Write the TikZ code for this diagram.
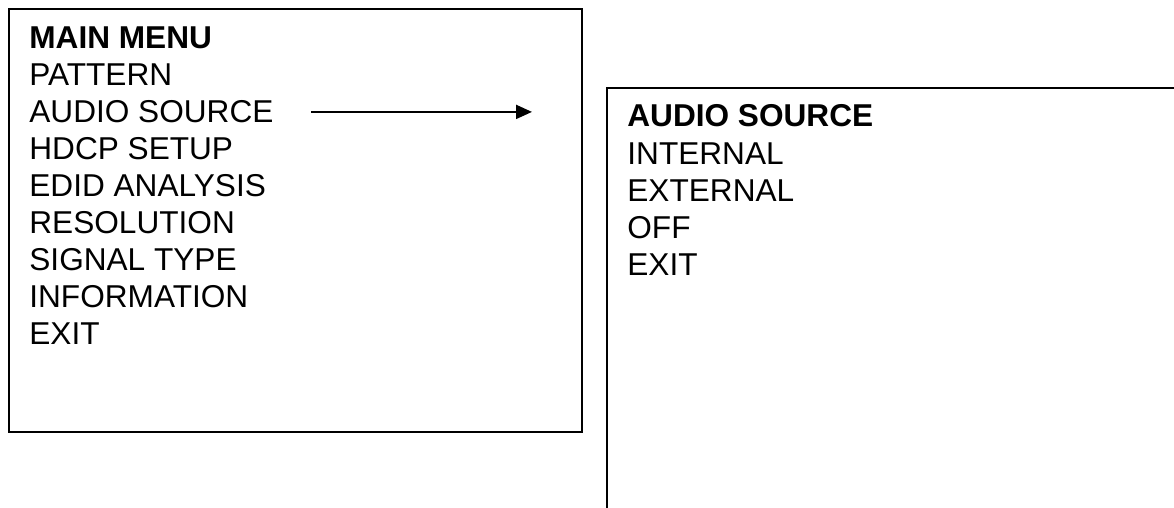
\documentclass[tikz,border=0pt]{standalone}
\usepackage{fontspec}
\setmainfont{Liberation Sans}
\usetikzlibrary{arrows.meta,positioning}
\tikzset{>=latex}
\tikzset{
  menuitem/.style={anchor=base west, inner sep=0pt, font=\fontsize{15.8}{18}\selectfont},
  menutitle/.style={menuitem, font=\fontsize{15.8}{18}\selectfont\bfseries},
  menubox/.style={line width=1pt},
}
\begin{document}
\begin{tikzpicture}[x=0.5pt,y=0.5pt]
    \useasboundingbox (0,0) rectangle (1174,508);

    % main menu
    \draw[menubox] (9,76) rectangle (582,499);
    \node[menutitle] (mtitle) at (29,459) {MAIN MENU};
    \foreach \txt [count=\i] in {PATTERN,AUDIO SOURCE,HDCP SETUP,EDID ANALYSIS,RESOLUTION,SIGNAL TYPE,INFORMATION,EXIT}
        \node[menuitem] (m\i) at (29,{459-36.9*\i}) {\txt};

    % audio source sub menu (runs off the page)
    \draw[menubox] (607,-20) rectangle (1200,420);
    \node[menutitle] (stitle) at (627,381) {AUDIO SOURCE};
    \foreach \txt [count=\i] in {INTERNAL,EXTERNAL,OFF,EXIT}
        \node[menuitem] (s\i) at (627,{381-37.1*\i}) {\txt};

    % arrow to sub menu
    \coordinate (aend) at (532,0);
    \draw[line width=1pt,-{Triangle[length=8pt,width=7pt]}] ([xshift=18.7pt]m2.east) -- (m2.east -| aend);
\end{tikzpicture}
\end{document}
